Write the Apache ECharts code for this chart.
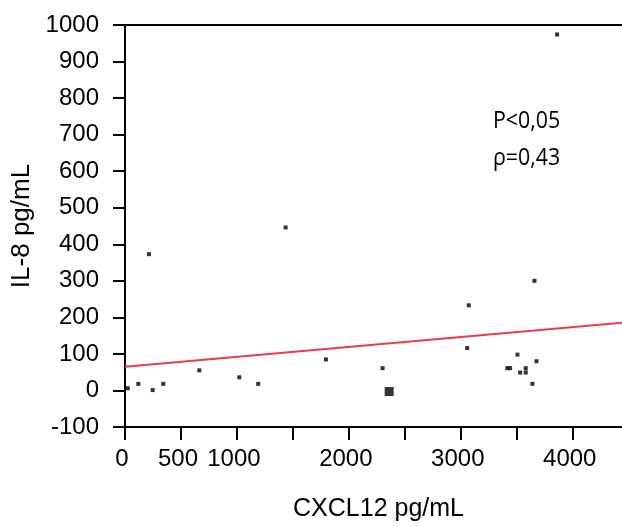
<!DOCTYPE html>
<html>
<head>
<meta charset="utf-8">
<script src="https://cdn.jsdelivr.net/npm/echarts@6/dist/echarts.min.js"></script>
<style>
    html, body { margin: 0; padding: 0; background: #fff; }
    #chart { width: 622px; height: 527px; }
</style>
</head>
<body>
<div id="chart"></div>
<script>
// CXCL12 (x) vs IL-8 (y), pg/mL
var cxcl12 = [25, 119, 247, 342, 664, 1021, 1190, 214, 1435, 1795, 2301, 3057, 3071, 3415, 3440, 3506, 3530, 3580, 3580, 3640, 3658, 3676, 3860];
var il8 = [6, 18, 1, 18, 55, 36, 18, 373, 446, 85, 61, 116, 233, 61, 61, 98, 49, 49, 61, 18, 300, 80, 974];
// the large marker (overlapping points)
var bigX = [2360];
var bigY = [-3];
// regression line end points
var fitX = [0, 4440];
var fitY = [65, 185];
var statLines = ["P<0,05", "\u03c1=0,43"];

var myChart = echarts.init(document.getElementById("chart"));

var pts = cxcl12.map(function (x, i) { return [x, il8[i]]; });
var big = bigX.map(function (x, i) { return [x, bigY[i]]; });
var fit = fitX.map(function (x, i) { return [x, fitY[i]]; });

var labelFont = {
    color: "#000",
    fontFamily: "Liberation Sans",
    fontSize: 24
};

var option = {
    animation: false,
    backgroundColor: "#fff",
    grid: {
        left: 125,
        right: 0,
        top: 25,
        bottom: 86
    },
    xAxis: [
        {
            type: "value",
            min: 0,
            max: 4440,
            interval: 500,
            name: "CXCL12 pg/mL",
            nameLocation: "middle",
            nameGap: 70,
            nameTextStyle: { color: "#000", fontFamily: "Liberation Sans", fontSize: 25, padding: [0, 0, 0, 10] },
            axisLine: { onZero: false, lineStyle: { color: "#000", width: 2 } },
            axisTick: { length: 13, lineStyle: { color: "#000", width: 2 } },
            axisLabel: Object.assign({
                margin: 20,
                padding: [0, 6, 0, 0],
                showMaxLabel: false,
                formatter: function (v) {
                    if (v === 0 || v === 500 || v % 1000 === 0) return String(v);
                    return "";
                }
            }, labelFont),
            splitLine: { show: false }
        },
        {
            type: "value",
            position: "top",
            min: 0,
            max: 4440,
            axisLine: { show: true, onZero: false, lineStyle: { color: "#000", width: 2 } },
            axisTick: { show: false },
            axisLabel: { show: false },
            splitLine: { show: false }
        }
    ],
    yAxis: {
        type: "value",
        min: -100,
        max: 1000,
        interval: 100,
        name: "IL-8 pg/mL",
        nameLocation: "middle",
        nameGap: 84,
        nameTextStyle: { color: "#000", fontFamily: "Liberation Sans", fontSize: 26 },
        axisLine: { onZero: false, lineStyle: { color: "#000", width: 2 } },
        axisTick: { length: 12, lineStyle: { color: "#000", width: 2 } },
        axisLabel: Object.assign({
            margin: 26,
            formatter: function (v) { return String(v); }
        }, labelFont),
        splitLine: { show: false }
    },
    graphic: [
        {
            type: "text",
            left: 493,
            top: 109,
            scaleX: 0.89,
            style: { text: statLines[0], fill: "#000", font: "24px 'Open Sans'" }
        },
        {
            type: "text",
            left: 493,
            top: 146,
            scaleX: 0.89,
            style: { text: statLines[1], fill: "#000", font: "24px 'Open Sans'" }
        }
    ],
    series: [
        {
            type: "line",
            data: fit,
            symbol: "none",
            lineStyle: { color: "#eb3b4d", width: 2 },
            z: 1
        },
        {
            type: "scatter",
            data: pts,
            symbol: "rect",
            symbolSize: 4,
            itemStyle: { color: "#000" },
            z: 3
        },
        {
            type: "scatter",
            data: big,
            symbol: "rect",
            symbolSize: 9,
            itemStyle: { color: "#000" },
            z: 3
        }
    ]
};

myChart.setOption(option);
</script>
</body>
</html>
